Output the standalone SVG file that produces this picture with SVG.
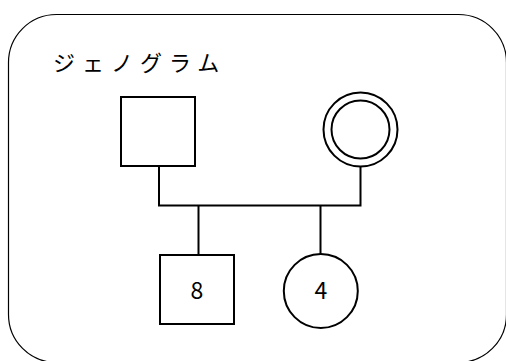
<svg xmlns="http://www.w3.org/2000/svg" width="506" height="361" viewBox="0 0 506 361">
<style>
.frame{fill:#fff;stroke:#000;stroke-width:1.2}
.node{fill:#fff;stroke:#000;stroke-width:2}
.conn{fill:none;stroke:#000;stroke-width:2}
.lbl{font-family:"Noto Sans CJK JP","Noto Sans",sans-serif;font-size:23px;fill:#000}
.title{font-family:"Noto Sans CJK JP",sans-serif;font-size:22px;fill:#000;letter-spacing:7px}
</style>
<rect width="506" height="361" fill="#fff"/>
<rect class="frame" x="8.5" y="14.5" width="498" height="348" rx="48" ry="48"/>
<text class="title" x="53" y="71">ジェノグラム</text>
<g id="connectors">
<polyline class="conn" points="159,166 159,205.5 360.5,205.5 360.5,166"/>
<line class="conn" x1="198.5" y1="205.5" x2="198.5" y2="255"/>
<line class="conn" x1="320.5" y1="205.5" x2="320.5" y2="254"/>
</g>
<g id="father">
<rect class="node" x="121" y="97" width="74" height="69"/>
</g>
<g id="mother">
<circle class="node" cx="360.5" cy="129.5" r="37"/>
<circle class="node" cx="360.5" cy="129.5" r="29"/>
</g>
<g id="son">
<rect class="node" x="160" y="255" width="74" height="69"/>
<text class="lbl" x="197" y="299" text-anchor="middle">8</text>
</g>
<g id="daughter">
<circle class="node" cx="320.8" cy="291" r="37"/>
<text class="lbl" x="320.8" y="299" text-anchor="middle">4</text>
</g>
</svg>
